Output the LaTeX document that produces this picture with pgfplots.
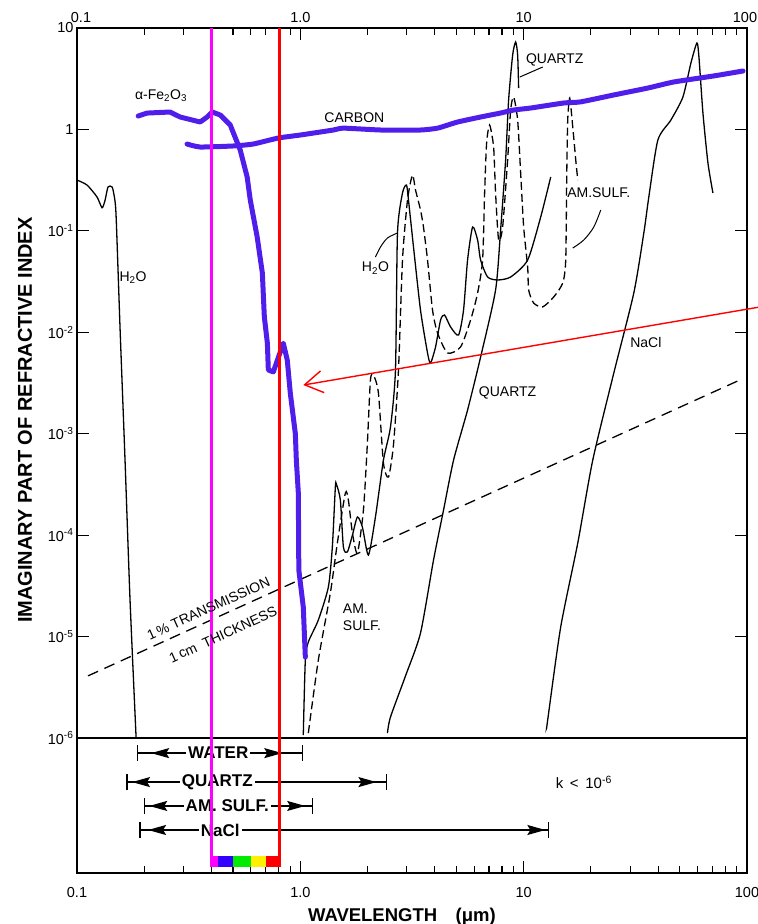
\documentclass[border=0pt]{standalone}
\usepackage{fontspec}
\setmainfont{Liberation Sans}
\usepackage{pgfplots}
\pgfplotsset{compat=1.18}
\usetikzlibrary{arrows.meta}
\definecolor{feblue}{RGB}{80,30,235}
\definecolor{vmag}{RGB}{255,0,255}
\definecolor{vred}{RGB}{255,0,0}
\definecolor{barblue}{RGB}{50,0,255}
\definecolor{bargreen}{RGB}{0,235,0}
\definecolor{baryellow}{RGB}{255,240,0}
\newcommand{\fs}[1]{\fontsize{#1}{#1}\selectfont}
\begin{document}
\begin{tikzpicture}
\begin{axis}[
  name=ax,
  scale only axis, width=670pt, height=845pt,
  xmode=log, ymode=log,
  xmin=0.1, xmax=100, ymin=4.67e-8, ymax=10,
  clip=false,
  axis line style={line width=1.6pt},
  xtick={0.1,1,10,100}, xticklabels={0.1,1.0,10,100},
  minor xtick={0.2,0.3,0.4,0.5,0.6,0.7,0.8,0.9,2,3,4,5,6,7,8,9,20,30,40,50,60,70,80,90},
  ytick={1e-6,1e-5,1e-4,1e-3,1e-2,1e-1,1,10},
  yticklabels={10\textsuperscript{-6},10\textsuperscript{-5},10\textsuperscript{-4},10\textsuperscript{-3},10\textsuperscript{-2},10\textsuperscript{-1},1,10},
  yminorticks=false,
  major tick length=12pt, minor tick length=7pt,
  every tick/.style={black, line width=1.2pt},
  tick align=inside,
  tick label style={font=\fs{14.5}},
  xticklabel style={anchor=base, yshift=-24pt},
  xlabel={WAVELENGTH\hspace{1em}(μm)},
  ylabel={IMAGINARY PART OF REFRACTIVE INDEX},
  every axis x label/.style={at={(rel axis cs:0.485,0)}, yshift=-44pt, anchor=center, font=\bfseries\fs{18.5}},
  every axis y label/.style={at={(rel axis cs:0,0.536)}, xshift=-52pt, rotate=90, anchor=center, font=\bfseries\fs{20}},
]
% 10^-6 separator
\addplot[black, line width=1.4pt, forget plot] coordinates {(0.1,1e-6)(100,1e-6)};
% H2O (UV)
\addplot[black, line width=1.3pt, smooth, tension=0.4] coordinates {(0.1,0.317)(0.1109,0.283)(0.1229,0.216)(0.1295,0.169)(0.1336,0.201)(0.1377,0.271)(0.1435,0.271)(0.1465,0.226)(0.1496,0.143)(0.156,0.0105)(0.1641,5.5e-4)(0.1728,2.29e-5)(0.1839,1.02e-6)};
% H2O (IR)
\addplot[black, line width=1.3pt, smooth, tension=0.4] coordinates {(1.031,1.07e-6)(1.053,5.87e-6)(1.086,8.84e-6)(1.204,1.457e-5)(1.335,3.08e-5)(1.391,7.64e-5)(1.435,2.98e-4)(1.450,3.19e-4)(1.511,2.22e-4)(1.559,7.64e-5)(1.624,6.82e-5)(1.711,1.0e-4)(1.801,1.51e-4)(1.897,1.20e-4)(2.018,6.37e-5)(2.169,1.51e-4)(2.356,5.50e-4)(2.533,1.165e-3)(2.667,4.25e-3)(2.723,0.0953)(2.867,0.236)(2.988,0.283)(3.050,0.201)(3.212,0.0693)(3.452,0.0166)(3.712,6.25e-3)(3.828,4.98e-3)(4.031,7.16e-3)(4.245,0.0132)(4.424,0.0148)(4.706,0.0113)(5.110,9.40e-3)(5.381,0.0166)(5.609,0.0516)(5.907,0.109)(6.220,0.0812)(6.416,0.0516)(6.896,0.0351)(7.645,0.0328)(8.744,0.0351)(10.42,0.0516)(11.92,0.137)(13.22,0.340)};
% AM. SULF. (dashed)
\addplot[black, line width=1.3pt, dash pattern=on 8pt off 4pt, smooth, tension=0.4] coordinates {(1.086,1.12e-6)(1.204,5.87e-6)(1.363,2.69e-5)(1.465,8.37e-5)(1.591,2.60e-4)(1.641,2.22e-4)(1.711,1.05e-4)(1.801,6.66e-5)(1.917,1.77e-4)(1.997,8.10e-4)(2.060,3.38e-3)(2.125,3.79e-3)(2.237,2.52e-3)(2.356,5.14e-4)(2.481,3.74e-4)(2.612,7.74e-4)(2.751,4.25e-3)(2.867,0.0516)(3.019,0.201)(3.178,0.355)(3.279,0.253)(3.452,0.161)(3.560,0.109)(3.712,0.0516)(3.908,0.0166)(4.115,9.84e-3)(4.563,6.25e-3)(5.217,7.16e-3)(5.786,0.0132)(6.220,0.0244)(6.549,0.0516)(6.686,0.236)(6.826,0.735)(7.040,1.106)(7.337,0.671)(7.487,0.236)(7.725,0.0812)(8.050,0.109)(8.477,0.500)(8.744,1.554)(9.020,2.088)(9.399,1.238)(9.694,0.373)(10.0,0.109)(10.42,0.044)(10.53,0.0261)(11.09,0.0194)(12.17,0.0178)(13.63,0.0223)(14.96,0.0306)(15.43,0.0516)(15.59,0.340)(15.75,1.238)(16.08,2.04)(16.59,1.056)(17.11,0.500)(17.47,0.317)};
% QUARTZ
\addplot[black, line width=1.3pt, smooth, tension=0.4] coordinates {(2.455,1.12e-6)(2.533,1.61e-6)(2.957,4.09e-6)(3.452,1.084e-5)(3.949,5.69e-5)(4.378,1.77e-4)(4.855,5.50e-4)(5.609,1.713e-3)(6.416,5.71e-3)(7.487,0.0261)(7.886,0.102)(8.303,0.500)(8.564,1.950)(8.927,5.416)(9.207,7.276)(9.399,5.416)(9.497,2.561)};
% NaCl
\addplot[black, line width=1.3pt, smooth, tension=0.4] coordinates {(12.68,1.255e-6)(12.81,1.504e-6)(14.65,1.243e-5)(17.47,8.37e-5)(20.39,5.50e-4)(25.33,3.97e-3)(31.13,0.0244)(34.52,0.0953)(36.35,0.216)(39.90,0.786)(45.63,1.238)(51.64,2.088)(56.09,4.516)(59.68,7.112)(60.93,5.176)(63.50,1.451)(66.86,0.467)(70.40,0.236)};
% 1% transmission, 1 cm thickness
\addplot[black, line width=1.3pt, dash pattern=on 11pt off 7pt] coordinates {(0.112,4.1e-6)(96,3.5e-3)};
% leader lines
\addplot[black, line width=1pt, smooth] coordinates {(2.169,0.0552)(2.285,0.0693)(2.455,0.0850)(2.723,0.0953)};
\addplot[black, line width=1pt, smooth] coordinates {(22.14,0.1605)(20.60,0.109)(18.58,0.0812)(16.59,0.0677)};
\addplot[black, line width=1pt] coordinates {(9.62,3.29)(12.17,4.125)};
% transparency ranges
\addplot[black, line width=1.3pt, mark=|, mark size=8pt, mark options={line width=1.3pt}] coordinates {(0.186,7.1e-7)(1.02,7.1e-7)};
\addplot[black, line width=1.3pt, {Stealth[length=18pt,width=10pt,inset=3pt]}-{Stealth[length=18pt,width=10pt,inset=3pt]}, shorten <=14pt, shorten >=20pt] coordinates {(0.186,7.1e-7)(1.02,7.1e-7)};
\addplot[black, line width=1.3pt, mark=|, mark size=8pt, mark options={line width=1.3pt}] coordinates {(0.1675,3.68e-7)(2.43,3.68e-7)};
\addplot[black, line width=1.3pt, {Stealth[length=18pt,width=10pt,inset=3pt]}-{Stealth[length=18pt,width=10pt,inset=3pt]}, shorten <=5pt, shorten >=10pt] coordinates {(0.1675,3.68e-7)(2.43,3.68e-7)};
\addplot[black, line width=1.3pt, mark=|, mark size=8pt, mark options={line width=1.3pt}] coordinates {(0.2,2.14e-7)(1.13,2.14e-7)};
\addplot[black, line width=1.3pt, {Stealth[length=18pt,width=10pt,inset=3pt]}-{Stealth[length=18pt,width=10pt,inset=3pt]}, shorten <=5pt, shorten >=7pt] coordinates {(0.2,2.14e-7)(1.13,2.14e-7)};
\addplot[black, line width=1.3pt, mark=|, mark size=8pt, mark options={line width=1.3pt}] coordinates {(0.1916,1.24e-7)(12.9,1.24e-7)};
\addplot[black, line width=1.3pt, {Stealth[length=18pt,width=10pt,inset=3pt]}-{Stealth[length=18pt,width=10pt,inset=3pt]}, shorten <=8pt, shorten >=3pt] coordinates {(0.1916,1.24e-7)(12.9,1.24e-7)};
\node[font=\bfseries\fs{17}, fill=white, inner sep=2pt] at (axis cs:0.429,7.1e-7) {WATER};
\node[font=\bfseries\fs{17}, fill=white, inner sep=2pt] at (axis cs:0.425,3.68e-7) {QUARTZ};
\node[font=\bfseries\fs{17}, fill=white, inner sep=2pt] at (axis cs:0.471,2.14e-7) {AM. SULF.};
\node[font=\bfseries\fs{17}, fill=white, inner sep=2pt] at (axis cs:0.438,1.24e-7) {NaCl};
\node[font=\fs{15}] at (axis cs:18.6,3.68e-7) {k\, <\, 10\textsuperscript{-6}};
% blue curves
\addplot[feblue, line width=5pt, line join=round, line cap=round] coordinates {(0.188,1.356)(0.206,1.45)(0.261,1.485)(0.2896,1.326)(0.356,1.184)(0.3828,1.326)(0.403,1.485)(0.4378,1.388)(0.4855,1.106)(0.538,0.627)(0.578,0.34)(0.597,0.201)(0.641,0.087)(0.676,0.0385)(0.690,0.0142)(0.712,7.8e-3)(0.719,4.25e-3)(0.757,4.07e-3)(0.839,7.8e-3)(0.874,5.33e-3)(0.902,2.5e-3)(0.950,1.0e-3)(0.9596,5.5e-4)(0.9796,2.6e-4)(0.9846,4.53e-5)(1.031,1.956e-5)(1.053,6.29e-6)};
\addplot[feblue, line width=5pt, line join=round, line cap=round, smooth, tension=0.3] coordinates {(0.311,0.718)(0.356,0.671)(0.501,0.687)(0.615,0.718)(0.797,0.823)(1.0,0.881)(1.406,0.987)(1.56,1.03)(2.29,0.987)(3.45,0.987)(4.12,1.03)(5.06,1.184)(6.42,1.326)(7.89,1.452)(9.02,1.554)(10.75,1.626)(15.11,1.822)(18.0,1.87)(25.4,2.19)(36.0,2.56)(47.1,2.94)(71.1,3.37)(96,3.77)};
% visible band
\addplot[vmag, line width=3pt] coordinates {(0.4,10)(0.4,5.35e-8)};
\addplot[vred, line width=3pt] coordinates {(0.81,10)(0.81,5.35e-8)};
\addplot[fill=vmag, draw=none] coordinates {(0.4,5.35e-8)(0.43,5.35e-8)(0.43,6.87e-8)(0.4,6.87e-8)};
\addplot[fill=barblue, draw=none] coordinates {(0.43,5.35e-8)(0.5,5.35e-8)(0.5,6.87e-8)(0.43,6.87e-8)};
\addplot[fill=bargreen, draw=none] coordinates {(0.5,5.35e-8)(0.6,5.35e-8)(0.6,6.87e-8)(0.5,6.87e-8)};
\addplot[fill=baryellow, draw=none] coordinates {(0.6,5.35e-8)(0.7,5.35e-8)(0.7,6.87e-8)(0.6,6.87e-8)};
\addplot[fill=vred, draw=none] coordinates {(0.7,5.35e-8)(0.81,5.35e-8)(0.81,6.87e-8)(0.7,6.87e-8)};
% red pointer
\draw[vred, line width=1.4pt, -{Straight Barb[length=18pt,width=22pt,line width=1.4pt]}] (axis cs:113,0.0177) -- (axis cs:1.031,3.02e-3);
% curve labels
\node[font=\fs{14}] at (axis cs:0.238,2.136) {α-Fe\textsubscript{2}O\textsubscript{3}};
\node[font=\fs{14}] at (axis cs:1.746,1.296) {CARBON};
\node[font=\fs{14}] at (axis cs:13.77,4.835) {QUARTZ};
\node[font=\fs{14}] at (axis cs:0.1783,0.0343) {H\textsubscript{2}O};
\node[font=\fs{14}] at (axis cs:2.169,0.043) {H\textsubscript{2}O};
\node[font=\fs{14}] at (axis cs:21.69,0.236) {AM.SULF.};
\node[font=\fs{14}] at (axis cs:8.477,2.52e-3) {QUARTZ};
\node[font=\fs{14}] at (axis cs:35.25,8.02e-3) {NaCl};
\node[font=\fontsize{14}{17}\selectfont, anchor=west, align=left] at (axis cs:1.496,1.559e-5) {AM.\\SULF.};
\node[font=\fs{14}, rotate=24.4, inner sep=0pt] at (axis cs:0.395,1.83e-5) [xshift=-1pt, yshift=2pt] {1\,\% TRANSMISSION};
\node[font=\fs{14}, rotate=24.4, inner sep=0pt] at (axis cs:0.443,1.08e-5) [xshift=1pt, yshift=-2pt] {1\,cm\ \ THICKNESS};
% top tick labels
\node[font=\fs{14.5}, anchor=base] at (axis cs:0.1,10) [xshift=4pt, yshift=6pt] {0.1};
\node[font=\fs{14.5}, anchor=base] at (axis cs:1,10) [yshift=6pt] {1.0};
\node[font=\fs{14.5}, anchor=base] at (axis cs:10,10) [yshift=6pt] {10};
\node[font=\fs{14.5}, anchor=base] at (axis cs:100,10) [xshift=-2pt, yshift=6pt] {100};
\end{axis}
\pgfresetboundingbox
\path[use as bounding box] ([shift={(-77pt,-51pt)}]ax.south west) rectangle ([shift={(11pt,28pt)}]ax.north east);
\end{tikzpicture}
\end{document}
